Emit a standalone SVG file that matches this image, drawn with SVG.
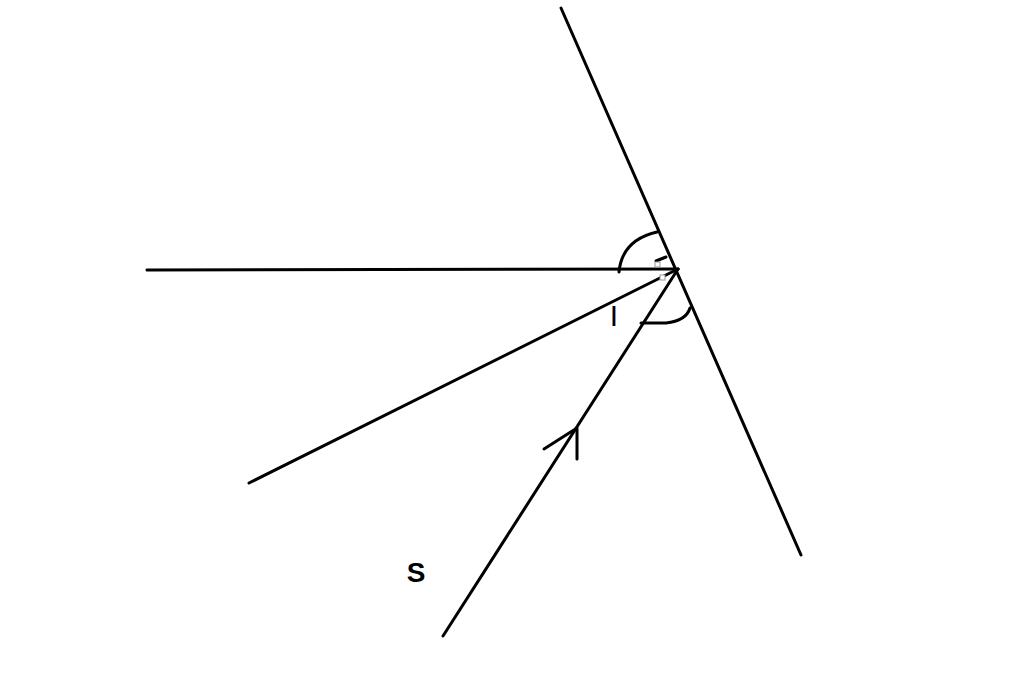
<svg xmlns="http://www.w3.org/2000/svg" width="1024" height="681" viewBox="0 0 1024 681">
<style>
.ln{stroke:#000;stroke-width:3;fill:none;stroke-linecap:round;stroke-linejoin:round}
.lbl{font-family:"Liberation Sans",Arial,sans-serif;font-weight:bold;fill:#000}
</style>
<rect width="1024" height="681" fill="#fff"/>
<g id="connectors">
<line id="mirror" class="ln" x1="561" y1="8" x2="801" y2="555"/>
<line id="horizontal-ray" class="ln" x1="147" y1="270" x2="678" y2="269"/>
<line id="reflected-ray" class="ln" x1="249" y1="483" x2="678" y2="269"/>
<line id="incident-ray" class="ln" x1="443" y1="636" x2="678" y2="269"/>
<path id="arrowhead" class="ln" d="M544,449 L577,428 L577,459"/>
<path id="arc-upper" class="ln" d="M619,272 Q622,240 657,232"/>
<path id="arc-lower" class="ln" d="M641,323 L666,323 Q686,321 690,308"/>
<path id="right-angle" class="ln" stroke-width="2" d="M656,261 L666,257"/>
<rect x="655" y="262" width="5" height="5" fill="#fff" stroke="#999" stroke-width="1"/>
<rect x="660" y="275" width="5" height="5" fill="#fff" stroke="#999" stroke-width="1"/>
</g>
<g id="label-I"><text x="614" y="326" font-family="Liberation Sans, Arial, sans-serif" font-size="30" fill="#000" text-anchor="middle">I</text></g>
<g id="label-S"><text class="lbl" x="416" y="582" font-size="28" text-anchor="middle">S</text></g>
</svg>
